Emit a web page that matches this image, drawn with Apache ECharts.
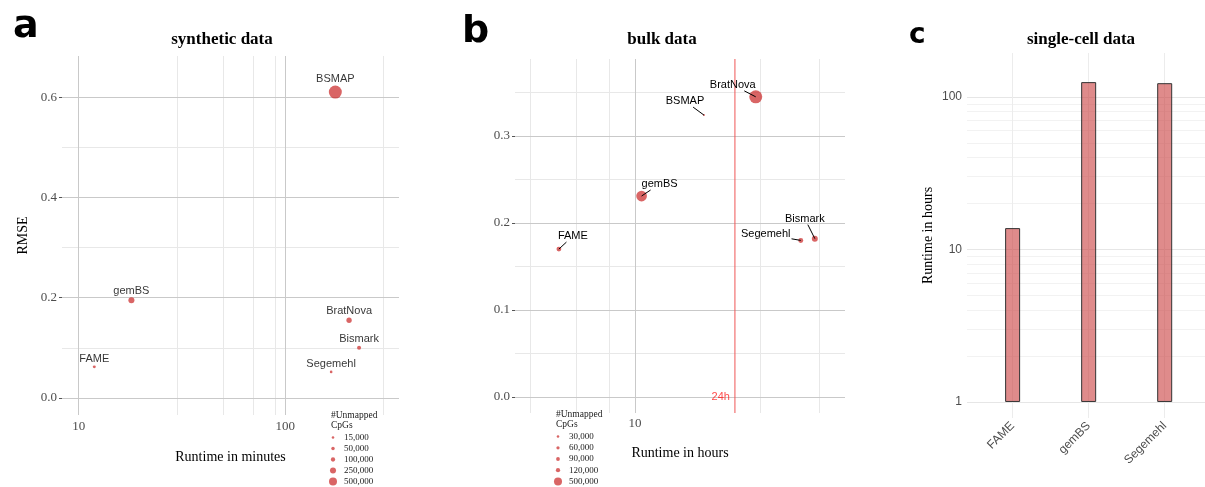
<!DOCTYPE html>
<html>
<head>
<meta charset="utf-8">
<script src="https://cdn.jsdelivr.net/npm/echarts@6/dist/echarts.min.js"></script>
<style>
  html, body { margin: 0; padding: 0; background: #fff; }
  #chart { width: 1205px; height: 487px; }
</style>
</head>
<body>
<div id="chart"></div>
<script>
// panel a: synthetic data
const methodsA = ['BSMAP', 'gemBS', 'FAME', 'BratNova', 'Bismark', 'Segemehl']
const runtimeA = [175, 18, 11.9, 204, 228, 167]          // minutes
const rmseA = [0.61, 0.195, 0.062, 0.155, 0.10, 0.052]
const unmappedA = [1540000, 245000, 30000, 177000, 80000, 20000]
const legendA = [15000, 50000, 100000, 250000, 500000]

// panel b: bulk data
const methodsB = ['FAME', 'gemBS', 'BSMAP', 'BratNova', 'Segemehl', 'Bismark']
const runtimeB = [5.14, 10.6, 18.3, 28.8, 42.7, 48.3]     // hours
const rmseB = [0.170, 0.231, 0.324, 0.345, 0.180, 0.182]
const unmappedB = [160000, 940000, 15000, 1420000, 170000, 260000]
const legendB = [30000, 60000, 90000, 120000, 500000]
const cutoffB = 24

// panel c: single-cell data
const catsC = ['FAME', 'gemBS', 'Segemehl']
const runtimeC = [13.8, 125, 123]                         // hours

// tick / grid values
const yTicksA = [0, 0.2, 0.4, 0.6]
const yMinorA = [0.1, 0.3, 0.5]
const xTicksA = [10, 100]
const xMinorA = [30, 50, 70, 90, 300]
const yTicksB = [0, 0.1, 0.2, 0.3]
const yMinorB = [0.05, 0.15, 0.25, 0.35]
const xTicksB = [10]
const xMinorB = [4, 6, 8, 30, 50]
const yTicksC = [1, 10, 100]
const yMinorC = [2, 3, 4, 5, 6, 7, 8, 9, 20, 30, 40, 50, 60, 70, 80, 90]

// axis ranges
const yRangeA = [-0.034, 0.682]
const xRangeA = [8.3, 356]
const yRangeB = [-0.0184, 0.3885]
const xRangeB = [3.5, 62.9]
const yRangeC = [0.785, 194]

// label offsets for the repelled labels in b (style only)
const labelShiftB = [[14, -13], [18, -12], [-19, -14], [-23, -12], [-35, -6], [-10, -20]]

const SERIF = 'Liberation Serif'
const SANS = 'Liberation Sans'
const RED = 'rgba(200, 30, 30, 0.85)'
const MAJOR = '#c9c9c9'
const MINOR = '#e8e8e8'
const LETTER = { fontFamily: 'DejaVu Sans', fontWeight: 'bold', fontSize: 38, color: '#000' }
const HEAD = { fontFamily: SERIF, fontWeight: 'bold', fontSize: 17, color: '#000' }
const LEGTITLE = { fontFamily: SERIF, fontSize: 9.5, lineHeight: 10, fontWeight: 'normal', color: '#222' }

const sizeA = v => 1.35 + 0.0094 * Math.sqrt(v)
const sizeB = v => 0.72 + 0.0103 * Math.sqrt(v)
const fmt = v => v.toLocaleString('en-US')

const measureCtx = document.createElement('canvas').getContext('2d')
measureCtx.font = '11px "Liberation Sans"'
const textWidth = s => measureCtx.measureText(s).width

const lines = (axis, vals, color) => vals.map(v => ({ [axis]: v, lineStyle: { color, width: 1, type: 'solid' } }))

const gridSeries = (idx, data) => ({
  type: 'line',
  xAxisIndex: idx,
  yAxisIndex: idx,
  data: [],
  z: 1,
  silent: true,
  markLine: { silent: true, z: 1, symbol: 'none', animation: false, label: { show: false }, data }
})

const axisText = { fontFamily: SERIF, fontSize: 13, color: '#4d4d4d' }
const nameText = { fontFamily: SERIF, fontSize: 14, color: '#000' }

const valueAxisBase = {
  axisLine: { show: false },
  splitLine: { show: false },
  axisTick: { show: true, length: 3, lineStyle: { color: '#555' } }
}

const legendAxis = (idx, vals) => ({
  gridIndex: idx, type: 'category', inverse: true, position: 'right', data: vals.map(fmt),
  axisLine: { show: false }, axisTick: { show: false }, splitLine: { show: false },
  axisLabel: { fontFamily: SERIF, fontSize: 9, color: '#222', margin: 8, interval: 0 }
})

// repelled label with a segment from the point to the label box
const renderRepel = (params, api) => {
  const i = params.dataIndex
  const pt = api.coord([api.value(0), api.value(1)])
  const [dx, dy] = labelShiftB[i]
  const hw = textWidth(methodsB[i]) / 2 + 1
  const hh = 6
  const t = Math.max(0, 1 - hw / Math.abs(dx || 1e-6), 1 - hh / Math.abs(dy || 1e-6))
  return {
    type: 'group',
    children: [
      {
        type: 'line',
        shape: { x1: pt[0], y1: pt[1], x2: pt[0] + dx * t, y2: pt[1] + dy * t },
        style: { stroke: '#000', lineWidth: 1 }
      },
      {
        type: 'text',
        x: pt[0] + dx, y: pt[1] + dy,
        style: { text: methodsB[i], align: 'center', verticalAlign: 'middle', font: '11px "Liberation Sans"', fill: '#000' }
      }
    ]
  }
}

const option = {
  animation: false,
  backgroundColor: '#fff',
  title: [
    { text: 'a', left: 8, top: 3, textStyle: LETTER },
    { text: 'b', left: 457, top: 8, textStyle: LETTER },
    { text: 'c', left: 904, top: 17, textStyle: { ...LETTER, fontSize: 28 } },
    { text: 'synthetic data', left: 217, top: 26, textAlign: 'center', textStyle: HEAD },
    { text: 'bulk data', left: 657, top: 26, textAlign: 'center', textStyle: HEAD },
    { text: 'single-cell data', left: 1076, top: 26, textAlign: 'center', textStyle: HEAD },
    { text: '#Unmapped\nCpGs', left: 326, top: 405, textStyle: LEGTITLE },
    { text: '#Unmapped\nCpGs', left: 551, top: 404, textStyle: LEGTITLE }
  ],
  grid: [
    { left: 62, top: 56, width: 337, height: 359 },
    { left: 515, top: 59, width: 330, height: 354 },
    { left: 967, top: 53, width: 238, height: 365 },
    { left: 330, top: 432, width: 6, height: 56 },
    { left: 555, top: 431, width: 6, height: 56 }
  ],
  xAxis: [
    {
      ...valueAxisBase, gridIndex: 0, type: 'log', logBase: 10, min: xRangeA[0], max: xRangeA[1],
      name: 'Runtime in minutes', nameLocation: 'middle', nameGap: 35, nameTextStyle: nameText,
      axisTick: { show: true, length: 3, customValues: xTicksA, lineStyle: { color: '#555' } },
      axisLabel: { ...axisText, margin: 5, customValues: xTicksA }
    },
    {
      ...valueAxisBase, gridIndex: 1, type: 'log', logBase: 10, min: xRangeB[0], max: xRangeB[1],
      name: 'Runtime in hours', nameLocation: 'middle', nameGap: 33, nameTextStyle: nameText,
      axisTick: { show: true, length: 3, customValues: xTicksB, lineStyle: { color: '#555' } },
      axisLabel: { ...axisText, margin: 4, customValues: xTicksB }
    },
    {
      ...valueAxisBase, gridIndex: 2, type: 'value', min: 0.4, max: 3.53,
      axisTick: { show: false },
      axisLabel: {
        fontFamily: SANS, fontSize: 12, color: '#4d4d4d', rotate: 45, margin: 6,
        customValues: [1, 2, 3], formatter: v => catsC[Math.round(v) - 1]
      }
    },
    { gridIndex: 3, type: 'value', min: -1, max: 1, show: false },
    { gridIndex: 4, type: 'value', min: -1, max: 1, show: false }
  ],
  yAxis: [
    {
      ...valueAxisBase, gridIndex: 0, type: 'value', min: yRangeA[0], max: yRangeA[1],
      name: 'RMSE', nameLocation: 'middle', nameGap: 32, nameRotate: 90, nameTextStyle: nameText,
      axisTick: { show: true, length: 3, customValues: yTicksA, lineStyle: { color: '#555' } },
      axisLabel: { ...axisText, margin: 5, customValues: yTicksA, formatter: v => v.toFixed(1) }
    },
    {
      ...valueAxisBase, gridIndex: 1, type: 'value', min: yRangeB[0], max: yRangeB[1],
      axisTick: { show: true, length: 3, customValues: yTicksB, lineStyle: { color: '#555' } },
      axisLabel: { ...axisText, margin: 5, customValues: yTicksB, formatter: v => v.toFixed(1) }
    },
    {
      ...valueAxisBase, gridIndex: 2, type: 'log', logBase: 10, min: yRangeC[0], max: yRangeC[1],
      name: 'Runtime in hours', nameLocation: 'middle', nameGap: 32, nameRotate: 90, nameTextStyle: nameText,
      axisTick: { show: false },
      axisLabel: { fontFamily: SANS, fontSize: 12, color: '#4d4d4d', margin: 5, customValues: yTicksC }
    },
    legendAxis(3, legendA),
    legendAxis(4, legendB)
  ],
  series: [
    // grid lines
    gridSeries(0, [
      ...lines('yAxis', yMinorA, MINOR), ...lines('xAxis', xMinorA, MINOR),
      ...lines('yAxis', yTicksA, MAJOR), ...lines('xAxis', xTicksA, MAJOR)
    ]),
    gridSeries(1, [
      ...lines('yAxis', yMinorB, MINOR), ...lines('xAxis', xMinorB, MINOR),
      ...lines('yAxis', yTicksB, MAJOR), ...lines('xAxis', xTicksB, MAJOR)
    ]),
    gridSeries(2, [
      ...lines('yAxis', yMinorC, '#f2f2f2'), ...lines('yAxis', yTicksC, '#e6e6e6'),
      ...lines('xAxis', [1, 2, 3], '#ececec')
    ]),
    // 24h cutoff line
    {
      type: 'line', xAxisIndex: 1, yAxisIndex: 1, z: 2, silent: true, symbol: 'none',
      data: [[cutoffB, yRangeB[0]], [cutoffB, yRangeB[1]]],
      lineStyle: { color: '#ef5555', width: 1 },
      itemStyle: { color: '#ef5555' }
    },
    // panel a points
    {
      type: 'scatter', xAxisIndex: 0, yAxisIndex: 0, z: 3,
      data: methodsA.map((m, i) => ({ name: m, value: [runtimeA[i], rmseA[i], unmappedA[i]] })),
      symbolSize: v => sizeA(v[2]),
      itemStyle: { color: RED },
      label: { show: true, position: 'top', distance: 1, formatter: '{b}', fontFamily: SANS, fontSize: 11, color: '#000' }
    },
    // panel b points
    {
      type: 'scatter', xAxisIndex: 1, yAxisIndex: 1, z: 3,
      data: methodsB.map((m, i) => [runtimeB[i], rmseB[i], unmappedB[i]]),
      symbolSize: v => sizeB(v[2]),
      itemStyle: { color: RED }
    },
    // panel b repelled labels
    {
      type: 'custom', xAxisIndex: 1, yAxisIndex: 1, z: 4, silent: true,
      data: methodsB.map((m, i) => [runtimeB[i], rmseB[i]]),
      renderItem: renderRepel
    },
    // 24h label
    {
      type: 'scatter', xAxisIndex: 1, yAxisIndex: 1, z: 3, symbolSize: 0,
      data: [[cutoffB, 0]],
      label: { show: true, position: 'left', distance: 5, formatter: cutoffB + 'h', fontFamily: SANS, fontSize: 11, color: '#ff1a1a' }
    },
    // panel c bars
    {
      type: 'bar', xAxisIndex: 2, yAxisIndex: 2, z: 3, barWidth: 15,
      data: runtimeC.map((v, i) => [i + 1, v]),
      itemStyle: { color: 'rgba(200, 55, 55, 0.58)', borderColor: '#333', borderWidth: 1 }
    },
    // size legends
    {
      type: 'scatter', xAxisIndex: 3, yAxisIndex: 3,
      data: legendA.map(v => [0, fmt(v), v]),
      symbolSize: v => sizeA(v[2]),
      itemStyle: { color: RED }
    },
    {
      type: 'scatter', xAxisIndex: 4, yAxisIndex: 4,
      data: legendB.map(v => [0, fmt(v), v]),
      symbolSize: v => sizeB(v[2]),
      itemStyle: { color: RED }
    }
  ]
}

const chart = echarts.init(document.getElementById('chart'))
chart.setOption(option)
window.addEventListener('resize', () => chart.resize())
</script>
</body>
</html>
